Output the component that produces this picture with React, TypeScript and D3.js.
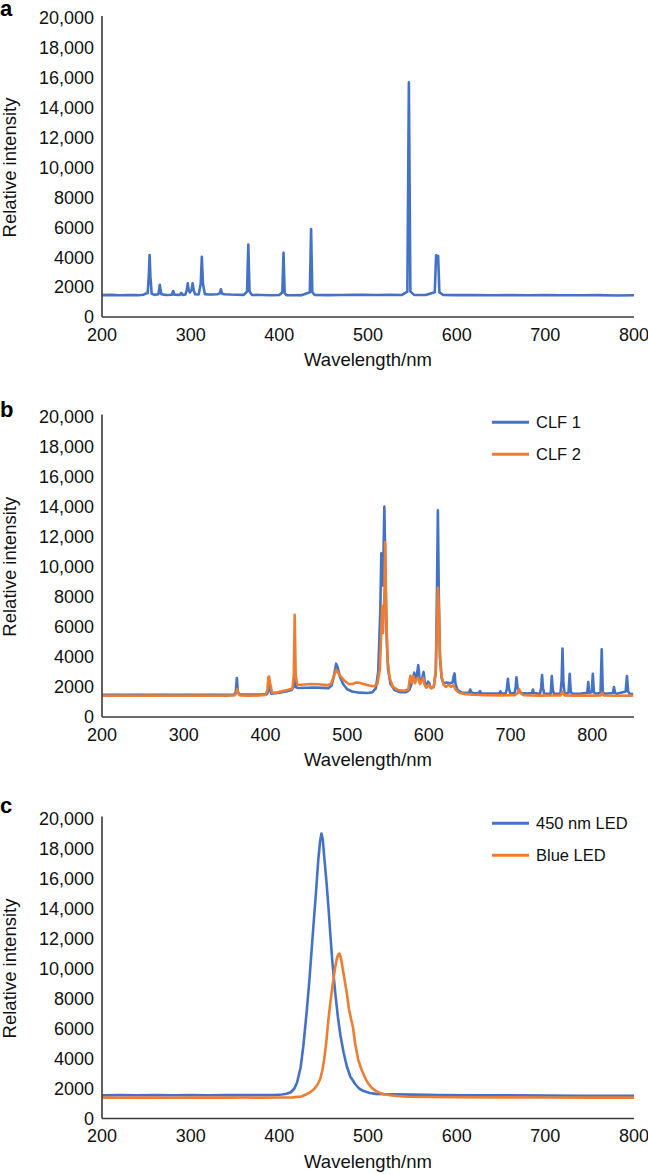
import React from "react";
import * as d3 from "d3";

// ---------- DATA ----------
const yTickValues = [0, 2000, 4000, 6000, 8000, 10000, 12000, 14000, 16000, 18000, 20000];
const xTicksAC = [200, 300, 400, 500, 600, 700, 800];
const xTicksB = [200, 300, 400, 500, 600, 700, 800];
const panelLetters = ["a", "b", "c"];
const xTitle = "Wavelength/nm";
const yTitle = "Relative intensity";
const legendB = ["CLF 1", "CLF 2"];
const legendC = ["450 nm LED", "Blue LED"];

// panel a: mercury lamp spectrum [wavelength nm, intensity]
const hgLampSpectrum: [number, number][] = [
  [200, 1460], [210, 1480], [220, 1450], [230, 1470], [240, 1460], [247, 1490], [249, 1560], [251.5, 1600],
  [252.8, 2800], [253.7, 4150], [254.6, 2700], [256, 1560], [259, 1480], [263.6, 1520], [264.6, 1900],
  [265.2, 2150], [265.9, 1850], [267, 1520], [272, 1470], [278.8, 1490], [280.3, 1740], [281.6, 1490],
  [287.8, 1480], [289.4, 1620], [290.8, 1480], [294, 1500], [295.6, 1800], [296.7, 2250], [297.8, 1800],
  [299, 1640], [301, 1800], [302.2, 2250], [303.4, 1800], [305, 1520], [309, 1510], [311.3, 2200],
  [312.6, 4030], [313.9, 2200], [316, 1530], [320, 1500], [325, 1510], [330, 1520], [332.8, 1580],
  [334.1, 1850], [335.4, 1560], [338, 1520], [345, 1500], [352, 1490], [360, 1480], [363.6, 1700],
  [365, 4850], [366.4, 1700], [369, 1480], [380, 1470], [392, 1450], [400, 1470], [403.4, 1650],
  [404.7, 4300], [406, 1600], [408, 1460], [415, 1450], [425, 1460], [434.4, 1650], [435.8, 5880],
  [437.2, 1650], [440, 1470], [455, 1460], [470, 1470], [485, 1480], [495, 1490], [510, 1470],
  [525, 1480], [538, 1470], [544.4, 1700], [546.1, 15700], [547.8, 1700], [552, 1480], [565, 1470],
  [575.3, 1650], [576.8, 4120], [577.9, 3750], [579.1, 4100], [580.5, 1650], [585, 1470], [600, 1460],
  [620, 1470], [640, 1450], [660, 1460], [680, 1450], [700, 1460], [720, 1450], [740, 1450],
  [760, 1460], [780, 1440], [800, 1450],
];

// panel b: CLF 1
const clf1Spectrum: [number, number][] = [
  [200, 1480], [220, 1470], [240, 1480], [260, 1470], [280, 1480], [300, 1470], [320, 1480], [340, 1470],
  [355, 1480], [362, 1500], [363.8, 1700], [365, 2600], [366.2, 1700], [368, 1500], [380, 1490],
  [395, 1490], [402, 1520], [403.6, 1800], [404.7, 2400], [405.8, 1800], [407, 1550], [415, 1600],
  [425, 1700], [432, 1800], [434.5, 2000], [435.8, 3000], [437, 2000], [440, 1930], [450, 1950],
  [460, 1960], [470, 1940], [477, 1920], [481, 2100], [484, 2800], [486.5, 3550], [488.5, 3300],
  [491, 2700], [495, 2200], [500, 1850], [506, 1700], [515, 1620], [525, 1600], [531, 1650], [535, 1900],
  [538, 3000], [540.5, 7000], [541.8, 10900], [542.8, 9000], [543.8, 8750], [545.5, 14000], [547, 9000],
  [548.5, 5000], [550, 3200], [553, 2200], [558, 1800], [565, 1650], [572, 1650], [576, 1800],
  [578, 2100], [580, 2400], [582, 2950], [583.5, 2500], [585, 2700], [587, 3450], [588.5, 2600],
  [590, 2300], [591.5, 2500], [593.5, 3000], [595, 2300], [597, 2000], [599, 2350], [600.5, 2250],
  [602, 1950], [606, 2000], [608.5, 3000], [609.8, 8000], [611, 13750], [612.2, 8000], [613.5, 4000],
  [615.5, 2600], [618, 2250], [622, 2300], [626, 2250], [629, 2300], [630.2, 2700], [631.4, 2900],
  [632.6, 2200], [635, 1800], [640, 1620], [647, 1600], [649.5, 1650], [650.6, 1830], [651.8, 1650],
  [655, 1580], [661, 1600], [662.5, 1720], [664, 1580], [675, 1560], [686, 1560], [687.5, 1700],
  [689, 1570], [694, 1560], [695.5, 1900], [696.7, 2550], [697.9, 1900], [699.5, 1580], [705, 1600],
  [706.2, 2000], [707.2, 2650], [708.4, 2000], [710, 1750], [713, 1600], [720, 1560], [726.2, 1600],
  [727.3, 1830], [728.4, 1600], [736, 1540], [737.4, 1950], [738.5, 2800], [739.6, 1950], [741, 1560],
  [749, 1550], [750.4, 2720], [751.6, 1800], [753, 1550], [761, 1550], [762.4, 2400], [763.5, 4550],
  [764.6, 2300], [766, 1560], [770.8, 1600], [772.3, 2880], [773.6, 1700], [775, 1550], [785, 1540],
  [793.8, 1620], [795, 2320], [796.2, 1620], [799.3, 1650], [800.6, 2880], [801.9, 1650], [804, 1550],
  [810, 1600], [811.5, 4500], [812.8, 1650], [815, 1550], [825.2, 1600], [826.5, 1990], [827.8, 1600],
  [830, 1540], [840.8, 1700], [842.4, 2720], [843.8, 1700], [846, 1530], [850, 1520],
];

// panel b: CLF 2
const clf2Spectrum: [number, number][] = [
  [200, 1420], [215, 1410], [230, 1430], [245, 1410], [260, 1420], [275, 1410], [290, 1430], [305, 1410],
  [320, 1420], [335, 1410], [350, 1420], [362, 1430], [364.5, 1600], [365.5, 1880], [366.5, 1600],
  [369, 1430], [380, 1420], [392, 1430], [400, 1460], [402.5, 1800], [403.5, 2650], [404.5, 2700],
  [405.5, 2300], [406.8, 2000], [408, 1620], [412, 1620], [420, 1720], [428, 1820], [433, 1900],
  [434.7, 2800], [435.8, 6800], [437, 2800], [439, 2150], [445, 2150], [455, 2200], [465, 2180],
  [475, 2120], [480, 2200], [483, 2600], [486.5, 3150], [489, 2950], [492, 2700], [497, 2400],
  [502, 2200], [507, 2200], [511, 2300], [515, 2280], [520, 2200], [527, 2100], [533, 2050], [537, 2200],
  [540, 3200], [542, 6000], [542.8, 7400], [543.8, 5600], [545.5, 8000], [546.5, 11650], [547.8, 7000],
  [549.5, 3800], [552, 2600], [556, 2000], [562, 1800], [570, 1750], [575, 1850], [576.5, 2500],
  [577.5, 2750], [579, 2300], [581, 2700], [583, 2250], [585, 2550], [587, 2600], [589, 2200],
  [591, 2400], [593, 2600], [595, 2100], [597, 1950], [600, 2150], [603, 1900], [606, 2000],
  [608.5, 3200], [609.8, 6000], [611, 8600], [612.2, 7200], [613.5, 4200], [615.5, 2700], [618, 2150],
  [621, 2000], [624.5, 2150], [627, 2000], [630, 2100], [633, 1800], [637, 1620], [645, 1520],
  [655, 1480], [670, 1450], [690, 1440], [705, 1450], [709, 1600], [710.5, 1850], [712, 1600],
  [716, 1450], [735, 1420], [750, 1430], [761, 1440], [763.5, 1680], [766, 1440], [780, 1420],
  [800, 1420], [810, 1430], [812, 1600], [814, 1430], [830, 1410], [850, 1420],
];

// panel c: 450 nm LED
const led450Spectrum: [number, number][] = [
  [200, 1540], [220, 1560], [240, 1550], [260, 1560], [280, 1550], [300, 1560], [320, 1550], [340, 1560],
  [360, 1560], [380, 1570], [395, 1570], [403, 1600], [408, 1650], [413, 1750], [417, 2000], [420, 2400],
  [424, 3400], [427, 4800], [431, 7200], [434, 9300], [438, 12500], [441, 14800], [444, 17300],
  [446, 18500], [447.5, 19000], [449, 18600], [451, 17200], [453, 15900], [455.5, 14000], [457.6, 12200],
  [460, 10300], [463, 8400], [466, 6800], [469, 5500], [472.5, 4400], [476, 3500], [480, 2800],
  [485.5, 2300], [490, 2000], [495, 1830], [502, 1700], [509, 1640], [520, 1620], [532, 1610],
  [550, 1590], [580, 1560], [620, 1550], [660, 1540], [700, 1530], [740, 1520], [780, 1510], [800, 1510],
];

// panel c: Blue LED
const blueLedSpectrum: [number, number][] = [
  [200, 1390], [220, 1380], [240, 1400], [260, 1390], [280, 1380], [300, 1400], [320, 1390], [340, 1390],
  [360, 1400], [380, 1390], [400, 1400], [415, 1410], [425, 1470], [430, 1600], [435, 1760], [439, 1950],
  [443, 2250], [446, 2620], [448.5, 3200], [450.6, 3950], [453, 5100], [455, 6400], [457.5, 7700],
  [460, 8850], [462.5, 9900], [464.6, 10600], [466.5, 10950], [467.8, 11000], [469.5, 10700],
  [471.6, 9950], [474, 9100], [476, 8400], [478.5, 7300], [481, 6600], [483, 6100], [485.5, 5000],
  [489, 3900], [492.5, 3300], [496, 2800], [499.5, 2400], [504, 2050], [508.8, 1840], [513, 1720],
  [518, 1620], [525, 1550], [532, 1500], [545, 1450], [570, 1430], [600, 1420], [650, 1410],
  [700, 1400], [750, 1390], [800, 1390],
];

// ---------- STYLE ----------
const BLUE = "#4472C4";
const ORANGE = "#ED7D31";
const FONT = "'Liberation Sans', Arial, Helvetica, sans-serif";
const AXIS = "#3a3a3a";

const fmtY = (v: number) => (v >= 10000 ? d3.format(",")(v) : String(v));

type Series = { data: [number, number][]; color: string; name?: string };

function Panel(props: {
  top: number; bottom: number; xMax: number; xTicks: number[]; letter: string; letterY: number;
  series: Series[]; legend?: { names: string[]; y0: number };
}) {
  const { top, bottom, xMax, xTicks, letter, letterY, series, legend } = props;
  const left = 102, right = 634;
  const x = d3.scaleLinear().domain([200, xMax]).range([left, right]);
  const y = d3.scaleLinear().domain([0, 20000]).range([bottom, top]);
  const line = d3.line<[number, number]>().x(d => x(d[0])).y(d => y(d[1]));
  const colors = [BLUE, ORANGE];
  return (
    <g>
      <text x={0} y={letterY} fontFamily={FONT} fontWeight="bold" fontSize={22}>{letter}</text>
      {yTickValues.map(v => (
        <text key={v} x={94} y={y(v) + 6.3} textAnchor="end" fontFamily={FONT} fontSize={18} fill="#111">{fmtY(v)}</text>
      ))}
      {xTicks.map(v => (
        <text key={v} x={x(v)} y={bottom + 23.5} textAnchor="middle" fontFamily={FONT} fontSize={18} fill="#111">{v}</text>
      ))}
      <text x={(left + right) / 2} y={bottom + 49} textAnchor="middle" fontFamily={FONT} fontSize={18.5} fill="#111">{xTitle}</text>
      <text transform={`translate(15.5,${(top + bottom) / 2}) rotate(-90)`} textAnchor="middle" fontFamily={FONT} fontSize={18.5} fill="#111">{yTitle}</text>
      {series.map((s, i) => (
        <path key={i} d={line(s.data) || ""} fill="none" stroke={s.color} strokeWidth={2.6} strokeLinejoin="round" />
      ))}
      <line x1={left} x2={left} y1={top - 2} y2={bottom} stroke={AXIS} strokeWidth={1.6} />
      <line x1={left} x2={right} y1={bottom} y2={bottom} stroke={AXIS} strokeWidth={1.6} />
      {legend && legend.names.map((n, i) => (
        <g key={n}>
          <line x1={492} x2={529} y1={legend.y0 + i * 32} y2={legend.y0 + i * 32} stroke={colors[i]} strokeWidth={3} />
          <text x={536} y={legend.y0 + i * 32 + 5.8} fontFamily={FONT} fontSize={16.5} fill="#111">{n}</text>
        </g>
      ))}
    </g>
  );
}

export default function App() {
  return (
    <svg width={648} height={1174} style={{ position: "absolute", left: 0, top: 0, background: "#fff" }}>
      <rect width={648} height={1174} fill="#fff" />
      <Panel top={18} bottom={317} xMax={800} xTicks={xTicksAC} letter={panelLetters[0]} letterY={16}
        series={[{ data: hgLampSpectrum, color: BLUE }]} />
      <Panel top={416.5} bottom={717} xMax={851} xTicks={xTicksB} letter={panelLetters[1]} letterY={417}
        series={[{ data: clf1Spectrum, color: BLUE }, { data: clf2Spectrum, color: ORANGE }]}
        legend={{ names: legendB, y0: 422.3 }} />
      <Panel top={818.5} bottom={1118.5} xMax={800} xTicks={xTicksAC} letter={panelLetters[2]} letterY={813}
        series={[{ data: led450Spectrum, color: BLUE }, { data: blueLedSpectrum, color: ORANGE }]}
        legend={{ names: legendC, y0: 823.3 }} />
    </svg>
  );
}
